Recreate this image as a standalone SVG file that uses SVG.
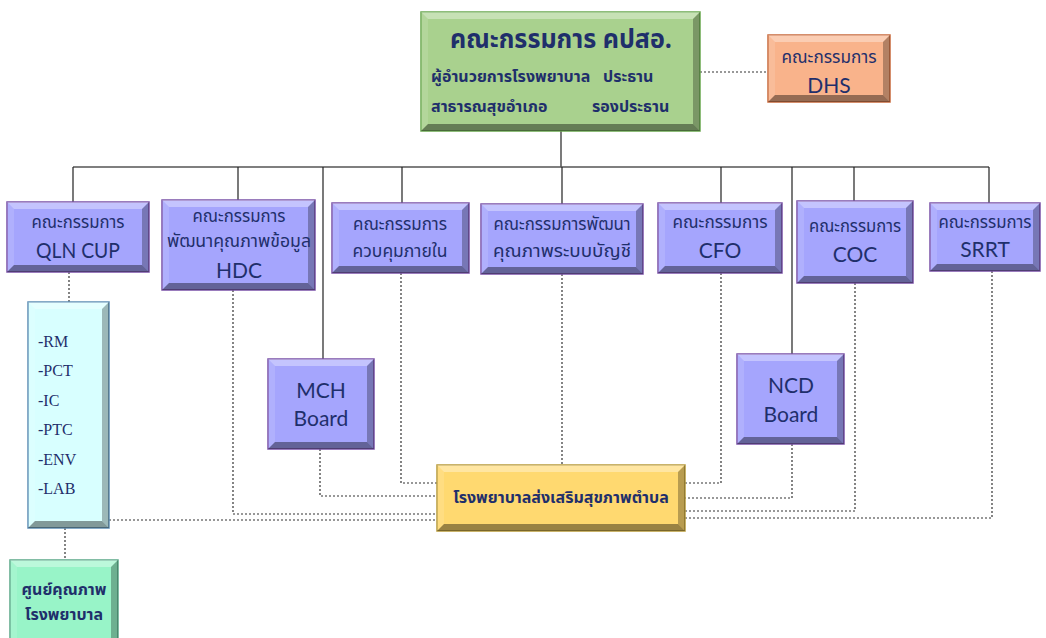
<svg xmlns="http://www.w3.org/2000/svg" width="1046" height="638" viewBox="0 0 1046 638">
<style>
.th{font-family:"Noto Sans Thai","Noto Sans","DejaVu Sans",sans-serif;fill:#1f2f6b;text-anchor:middle}
.tb{font-size:17px}
.la{font-family:Lato,"Open Sans","Liberation Sans",sans-serif;fill:#1f2f6b;text-anchor:middle;font-size:21px}
.se{font-family:"Liberation Serif",serif;fill:#1f2f6b;font-size:16px}
.hl{fill:#ffffff;fill-opacity:.35}
.hl2{fill:#ffffff;fill-opacity:.12}
.sh{fill:#000000;fill-opacity:.28}
.sh2{fill:#000000;fill-opacity:.4}
.pu{fill:#a5a5fd;stroke:#7a52a8;stroke-width:1.5}
.gr{fill:#a9d18e;stroke:#6aa84f;stroke-width:1.5}
.or{fill:#f9b38b;stroke:#c86a3c;stroke-width:1.5}
.ye{fill:#ffd970;stroke:#b89a3a;stroke-width:1.5}
.cy{fill:#d8ffff;stroke:#5d8fb5;stroke-width:1.5}
.gn{fill:#98f4c8;stroke:#5aa888;stroke-width:1.5}
.solid{fill:none;stroke:#222;stroke-width:1.2}
.bus{fill:none;stroke:#555;stroke-width:1.5}
.dash{fill:none;stroke:#333;stroke-width:1.2;stroke-dasharray:2 2}
</style>
<rect width="1046" height="638" fill="#ffffff"/>
<g id="connectors">
<path class="solid" d="M561 131V167"/>
<path class="bus" d="M73 167H989"/>
<path class="solid" d="M73 167V202M238 167V200M323 167V359M402 167V203M562 167V204M721 167V203M792 167V354M854 167V201M989 167V203"/>
<path class="dash" d="M700 72H768"/>
<path class="dash" d="M69 272V302"/>
<path class="dash" d="M65 528V560"/>
<path class="dash" d="M233 290V514H437"/>
<path class="dash" d="M109 520H437"/>
<path class="dash" d="M685 518H992V271"/>
<path class="dash" d="M320 449V496H437"/>
<path class="dash" d="M401 273V483H437"/>
<path class="dash" d="M562 274V465"/>
<path class="dash" d="M721 273V483H685"/>
<path class="dash" d="M792 444V498H685"/>
<path class="dash" d="M855 283V511H685"/>
</g>
<g id="top" transform="translate(421,12)">
<rect class="gr" width="279" height="119"/>
<polygon class="hl" points="0,0 279,0 272,7 7,7"/><polygon class="hl2" points="0,0 7,7 7,112 0,119"/><polygon class="sh" points="279,0 279,119 272,112 272,7"/><polygon class="sh2" points="0,119 7,112 272,112 279,119"/>
<text class="th" x="140" y="36" font-size="26" font-weight="bold" textLength="222" lengthAdjust="spacingAndGlyphs">คณะกรรมการ คปสอ.</text>
<text class="th" style="text-anchor:start" y="70" font-size="16" font-weight="bold"><tspan x="10">ผู้อำนวยการโรงพยาบาล</tspan><tspan x="182">ประธาน</tspan></text>
<text class="th" style="text-anchor:start" y="100" font-size="16" font-weight="bold"><tspan x="10">สาธารณสุขอำเภอ</tspan><tspan x="171">รองประธาน</tspan></text>
</g>
<g id="dhs" transform="translate(768,35)">
<rect class="or" width="122" height="67"/>
<polygon class="hl" points="0,0 122,0 115,7 7,7"/><polygon class="hl2" points="0,0 7,7 7,60 0,67"/><polygon class="sh" points="122,0 122,67 115,60 115,7"/><polygon class="sh2" points="0,67 7,60 115,60 122,67"/>
<text class="th tb" x="61" y="28" textLength="95" lengthAdjust="spacingAndGlyphs">คณะกรรมการ</text>
<text class="la" x="61" y="58">DHS</text>
</g>
<g id="qln" transform="translate(7,202)">
<rect class="pu" width="142" height="70"/>
<polygon class="hl" points="0,0 142,0 135,7 7,7"/><polygon class="hl2" points="0,0 7,7 7,63 0,70"/><polygon class="sh" points="142,0 142,70 135,63 135,7"/><polygon class="sh2" points="0,70 7,63 135,63 142,70"/>
<text class="th tb" x="71" y="26" textLength="93" lengthAdjust="spacingAndGlyphs">คณะกรรมการ</text>
<text class="la" x="71" y="56" textLength="84" lengthAdjust="spacingAndGlyphs">QLN CUP</text>
</g>
<g id="hdc" transform="translate(162,200)">
<rect class="pu" width="153" height="90"/>
<polygon class="hl" points="0,0 153,0 146,7 7,7"/><polygon class="hl2" points="0,0 7,7 7,83 0,90"/><polygon class="sh" points="153,0 153,90 146,83 146,7"/><polygon class="sh2" points="0,90 7,83 146,83 153,90"/>
<text class="th tb" x="77" y="22" textLength="93" lengthAdjust="spacingAndGlyphs">คณะกรรมการ</text>
<text class="th tb" x="77" y="47" textLength="144" lengthAdjust="spacingAndGlyphs">พัฒนาคุณภาพข้อมูล</text>
<text class="la" x="77" y="78">HDC</text>
</g>
<g id="internal" transform="translate(332,203)">
<rect class="pu" width="137" height="70"/>
<polygon class="hl" points="0,0 137,0 130,7 7,7"/><polygon class="hl2" points="0,0 7,7 7,63 0,70"/><polygon class="sh" points="137,0 137,70 130,63 130,7"/><polygon class="sh2" points="0,70 7,63 130,63 137,70"/>
<text class="th tb" x="68" y="27" textLength="94" lengthAdjust="spacingAndGlyphs">คณะกรรมการ</text>
<text class="th tb" x="68" y="54" textLength="95" lengthAdjust="spacingAndGlyphs">ควบคุมภายใน</text>
</g>
<g id="account" transform="translate(481,204)">
<rect class="pu" width="162" height="70"/>
<polygon class="hl" points="0,0 162,0 155,7 7,7"/><polygon class="hl2" points="0,0 7,7 7,63 0,70"/><polygon class="sh" points="162,0 162,70 155,63 155,7"/><polygon class="sh2" points="0,70 7,63 155,63 162,70"/>
<text class="th tb" x="81" y="26" textLength="137" lengthAdjust="spacingAndGlyphs">คณะกรรมการพัฒนา</text>
<text class="th tb" x="81" y="53" textLength="138" lengthAdjust="spacingAndGlyphs">คุณภาพระบบบัญชี</text>
</g>
<g id="cfo" transform="translate(658,203)">
<rect class="pu" width="124" height="70"/>
<polygon class="hl" points="0,0 124,0 117,7 7,7"/><polygon class="hl2" points="0,0 7,7 7,63 0,70"/><polygon class="sh" points="124,0 124,70 117,63 117,7"/><polygon class="sh2" points="0,70 7,63 117,63 124,70"/>
<text class="th tb" x="62" y="25" textLength="95" lengthAdjust="spacingAndGlyphs">คณะกรรมการ</text>
<text class="la" x="62" y="55">CFO</text>
</g>
<g id="coc" transform="translate(797,201)">
<rect class="pu" width="116" height="82"/>
<polygon class="hl" points="0,0 116,0 109,7 7,7"/><polygon class="hl2" points="0,0 7,7 7,75 0,82"/><polygon class="sh" points="116,0 116,82 109,75 109,7"/><polygon class="sh2" points="0,82 7,75 109,75 116,82"/>
<text class="th tb" x="58" y="31" textLength="92" lengthAdjust="spacingAndGlyphs">คณะกรรมการ</text>
<text class="la" x="58" y="61">COC</text>
</g>
<g id="srrt" transform="translate(930,203)">
<rect class="pu" width="110" height="68"/>
<polygon class="hl" points="0,0 110,0 103,7 7,7"/><polygon class="hl2" points="0,0 7,7 7,61 0,68"/><polygon class="sh" points="110,0 110,68 103,61 103,7"/><polygon class="sh2" points="0,68 7,61 103,61 110,68"/>
<text class="th tb" x="55" y="25" textLength="93" lengthAdjust="spacingAndGlyphs">คณะกรรมการ</text>
<text class="la" x="55" y="54">SRRT</text>
</g>
<g id="mch" transform="translate(268,359)">
<rect class="pu" width="106" height="90"/>
<polygon class="hl" points="0,0 106,0 99,7 7,7"/><polygon class="hl2" points="0,0 7,7 7,83 0,90"/><polygon class="sh" points="106,0 106,90 99,83 99,7"/><polygon class="sh2" points="0,90 7,83 99,83 106,90"/>
<text class="la" x="53" y="39">MCH</text>
<text class="la" x="53" y="67">Board</text>
</g>
<g id="ncd" transform="translate(737,354)">
<rect class="pu" width="107" height="90"/>
<polygon class="hl" points="0,0 107,0 100,7 7,7"/><polygon class="hl2" points="0,0 7,7 7,83 0,90"/><polygon class="sh" points="107,0 107,90 100,83 100,7"/><polygon class="sh2" points="0,90 7,83 100,83 107,90"/>
<text class="la" x="54" y="39">NCD</text>
<text class="la" x="54" y="68">Board</text>
</g>
<g id="list" transform="translate(28,302)">
<rect class="cy" width="81" height="226"/>
<polygon class="hl" points="0,0 81,0 74,7 7,7"/><polygon class="hl2" points="0,0 7,7 7,219 0,226"/><polygon class="sh" points="81,0 81,226 74,219 74,7"/><polygon class="sh2" points="0,226 7,219 74,219 81,226"/>
<text class="se" x="10" y="45">-RM</text>
<text class="se" x="10" y="74">-PCT</text>
<text class="se" x="10" y="104">-IC</text>
<text class="se" x="10" y="133">-PTC</text>
<text class="se" x="10" y="163">-ENV</text>
<text class="se" x="10" y="192">-LAB</text>
</g>
<g id="tambon" transform="translate(437,465)">
<rect class="ye" width="248" height="66"/>
<polygon class="hl" points="0,0 248,0 241,7 7,7"/><polygon class="hl2" points="0,0 7,7 7,59 0,66"/><polygon class="sh" points="248,0 248,66 241,59 241,7"/><polygon class="sh2" points="0,66 7,59 241,59 248,66"/>
<text class="th" x="124" y="38" font-size="16" font-weight="bold">โรงพยาบาลส่งเสริมสุขภาพตำบล</text>
</g>
<g id="quality" transform="translate(10,560)">
<rect class="gn" width="108" height="85"/>
<polygon class="hl" points="0,0 108,0 101,7 7,7"/><polygon class="hl2" points="0,0 7,7 7,78 0,85"/><polygon class="sh" points="108,0 108,85 101,78 101,7"/><polygon class="sh2" points="0,85 7,78 101,78 108,85"/>
<text class="th" x="54" y="35" font-size="16" font-weight="bold">ศูนย์คุณภาพ</text>
<text class="th" x="54" y="60" font-size="16" font-weight="bold">โรงพยาบาล</text>
</g>
</svg>
